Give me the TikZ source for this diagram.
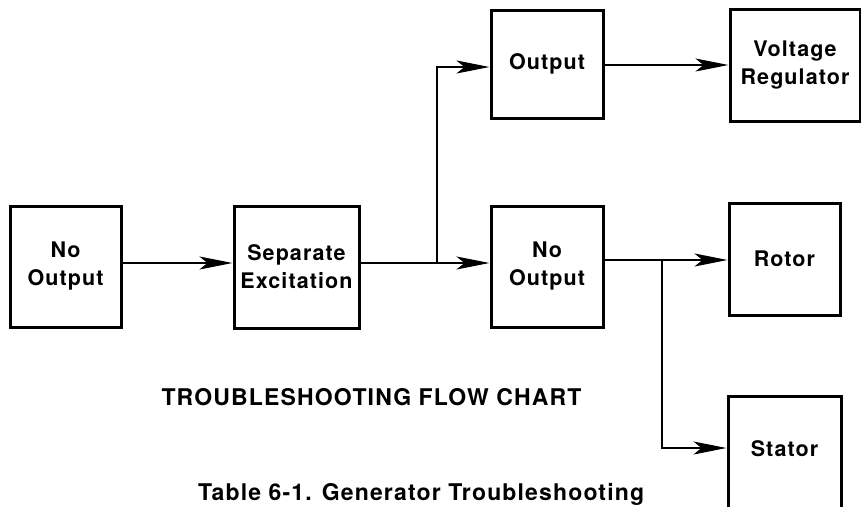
\documentclass[tikz,border=0pt]{standalone}
\usepackage{fontspec}
\setmainfont{TeX Gyre Heros}[LetterSpace=5]
\usetikzlibrary{arrows.meta}
\begin{document}
\begin{tikzpicture}[x=1pt,y=-1pt,
  box/.style={draw, line width=3pt, inner sep=0pt, align=center,
    font=\bfseries\fontsize{21.5}{28}\selectfont},
  lbl/.style={inner sep=0pt, font=\bfseries\fontsize{21.5}{28}\selectfont},
  conn/.style={line width=1.9pt},
  arr/.style={conn, -{Stealth[length=33pt,width=13pt,inset=8pt]}},
  title/.style={inner sep=0pt, font=\bfseries\fontsize{23}{28}\selectfont}
]
\fill[white] (0,0) rectangle (861,506);
\useasboundingbox (0,0) rectangle (861,506);
% boxes
\node[box, minimum width=111pt, minimum height=121pt] (A) at (65.5,266.5) {No\\Output};
\node[box, minimum width=125pt, minimum height=122pt] (B) at (296.5,267) {Separate\\Excitation};
\node[box, minimum width=112pt, minimum height=108pt] (C) at (547,64) {Output};
\node[box, minimum width=112pt, minimum height=121pt] (D) at (547,266.5) {No\\Output};
\node[box, minimum width=130pt, minimum height=112pt] (E) at (795,65) {Voltage\\Regulator};
\node[box, minimum width=111pt, minimum height=112pt] (F) at (784.5,259) {Rotor};
\node[box, minimum width=113pt, minimum height=150pt, anchor=north] (G) at (784.5,395) {};
\node[lbl] (Gt) at (784.5,449) {Stator};
% junctions
\coordinate (j1) at (437,263);
\coordinate (j2) at (662,260);
% connectors
\draw[arr] (A.east |- j1) -- (B.west |- j1);
\draw[conn] (B.east |- j1) -- (j1);
\draw[arr] (j1) -- (D.west |- j1);
\draw[arr] (j1) |- (C.west |- 0,67);
\draw[arr] (C.east |- 0,65) -- (E.west |- 0,65);
\draw[arr] (D.east |- j2) -- (F.west |- j2);
\draw[arr] (j2) |- (G.west |- 0,448);
% texts
\node[title, anchor=base] (t1) at (371.5,405) {TROUBLESHOOTING FLOW CHART};
\node[title, anchor=base west] (t2) at (198,500) {Table 6-1. Generator Troubleshooting};
\end{tikzpicture}
\end{document}
